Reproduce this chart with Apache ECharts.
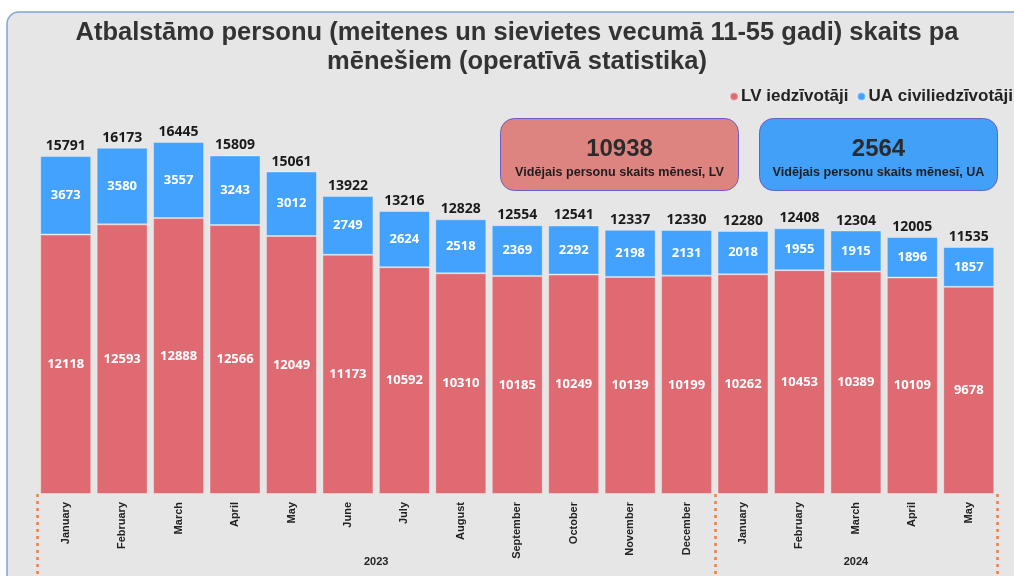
<!DOCTYPE html>
<html>
<head>
<meta charset="utf-8">
<script src="https://cdn.jsdelivr.net/npm/echarts@6/dist/echarts.min.js"></script>
<style>
  html, body { margin: 0; padding: 0; background: #ffffff; }
  #chart { width: 1014px; height: 576px; }
</style>
</head>
<body>
<div id="chart"></div>
<script>
// Monthly counts of supported persons (girls and women aged 11-55)
const months = ['January', 'February', 'March', 'April', 'May', 'June', 'July', 'August',
  'September', 'October', 'November', 'December',
  'January', 'February', 'March', 'April', 'May'];
const years = ['2023', '2024'];
const monthsPerYear = [12, 5];
const lvResidents = [12118, 12593, 12888, 12566, 12049, 11173, 10592, 10310, 10185, 10249,
  10139, 10199, 10262, 10453, 10389, 10109, 9678];
const uaCivilians = [3673, 3580, 3557, 3243, 3012, 2749, 2624, 2518, 2369, 2292,
  2198, 2131, 2018, 1955, 1915, 1896, 1857];

const totals = lvResidents.map((v, i) => v + uaCivilians[i]);
const avg = arr => Math.round(arr.reduce((a, b) => a + b, 0) / arr.length);
const avgLv = avg(lvResidents);
const avgUa = avg(uaCivilians);

// year boundaries and centres on a 0..N scale aligned with the category bands
const bounds = [0];
monthsPerYear.forEach(n => bounds.push(bounds[bounds.length - 1] + n));
const yearCentres = years.map((y, i) => (bounds[i] + bounds[i + 1]) / 2);

const LV_COLOR = '#df6a72';
const UA_COLOR = '#42a2fd';
const labelFont = '"Noto Sans", "DejaVu Sans", sans-serif';
const axisFont = '"Liberation Sans", Arial, sans-serif';

const chart = echarts.init(document.getElementById('chart'));

function summaryBox(x, fill, value, caption) {
  return {
    type: 'group',
    left: x, top: 118,
    children: [
      { type: 'rect', shape: { x: 0, y: 0, width: 238, height: 72, r: 14 },
        style: { fill: fill, stroke: '#6a5fc8', lineWidth: 1 } },
      { type: 'text', x: 119, y: 31,
        style: { text: String(value), fill: '#2b2b2b', font: 'bold 24px ' + axisFont,
          textAlign: 'center', textVerticalAlign: 'middle' } },
      { type: 'text', x: 119, y: 54,
        style: { text: caption, fill: '#1e1e1e', font: 'bold 12.6px ' + axisFont,
          textAlign: 'center', textVerticalAlign: 'middle' } }
    ]
  };
}

const option = {
  animation: false,
  backgroundColor: '#ffffff',
  graphic: [
    { type: 'rect', z: -10, shape: { x: 7, y: 12, width: 1040, height: 580, r: 12 },
      style: { fill: '#e6e6e6', stroke: '#7aa7d8', lineWidth: 1.5 } },
    { type: 'text', x: 517, y: 33,
      style: { text: 'Atbalstāmo personu (meitenes un sievietes vecumā 11-55 gadi) skaits pa',
        fill: '#333333', font: 'bold 25.5px ' + axisFont, textAlign: 'center', textVerticalAlign: 'middle' } },
    { type: 'text', x: 517, y: 62,
      style: { text: 'mēnešiem (operatīvā statistika)',
        fill: '#333333', font: 'bold 25.5px ' + axisFont, textAlign: 'center', textVerticalAlign: 'middle' } },
    summaryBox(500, '#de8480', avgLv, 'Vidējais personu skaits mēnesī, LV'),
    summaryBox(759, '#42a0f8', avgUa, 'Vidējais personu skaits mēnesī, UA')
  ],
  legend: {
    data: ['LV iedzīvotāji', 'UA civiliedzīvotāji'],
    right: 1, top: 88, padding: 0,
    icon: 'circle', itemWidth: 8, itemHeight: 8, itemGap: 8,
    textStyle: { fontSize: 17, fontWeight: 'bold', color: '#222', fontFamily: axisFont, padding: [0, 0, 0, -2] }
  },
  grid: { left: 37.5, right: 17, top: 108.6, bottom: 82, containLabel: false },
  xAxis: [
    {
      type: 'category', data: months,
      axisLine: { show: false }, axisTick: { show: false },
      axisLabel: { rotate: 90, margin: 8, fontSize: 11, fontWeight: 'bold', color: '#222',
        fontFamily: axisFont, interval: 0 }
    },
    {
      type: 'value', min: 0, max: months.length, position: 'bottom',
      axisLine: { show: false }, splitLine: { show: false },
      axisTick: { show: true, customValues: bounds, length: 84, inside: false,
        lineStyle: { color: '#f0803c', width: 2.5, type: [3, 4] } },
      axisLabel: { customValues: yearCentres, margin: 62, fontSize: 11, fontWeight: 'bold',
        color: '#222', fontFamily: axisFont,
        formatter: v => years[yearCentres.indexOf(v)] || '' }
    }
  ],
  yAxis: { type: 'value', min: 0, max: 18000, show: false },
  series: [
    {
      name: 'LV iedzīvotāji', type: 'bar', stack: 'total', barWidth: 51, data: lvResidents,
      itemStyle: { color: LV_COLOR, borderColor: 'rgba(255,255,255,0.35)', borderWidth: 1 },
      label: { show: true, position: 'inside', color: '#fff', fontSize: 13, fontWeight: 'bold', fontFamily: labelFont }
    },
    {
      name: 'UA civiliedzīvotāji', type: 'bar', stack: 'total', barWidth: 51, data: uaCivilians,
      itemStyle: { color: UA_COLOR, borderColor: 'rgba(255,255,255,0.35)', borderWidth: 1 },
      label: { show: true, position: 'inside', color: '#fff', fontSize: 13, fontWeight: 'bold', fontFamily: labelFont }
    },
    {
      name: 'Kopā', type: 'bar', stack: 'total', barWidth: 51,
      data: totals.map(() => 0),
      itemStyle: { color: 'transparent' },
      label: { show: true, position: 'top', distance: 3, color: '#1a1a1a', fontSize: 14,
        fontWeight: 'bold', fontFamily: labelFont, formatter: p => totals[p.dataIndex] }
    }
  ]
};

chart.setOption(option);
</script>
</body>
</html>
